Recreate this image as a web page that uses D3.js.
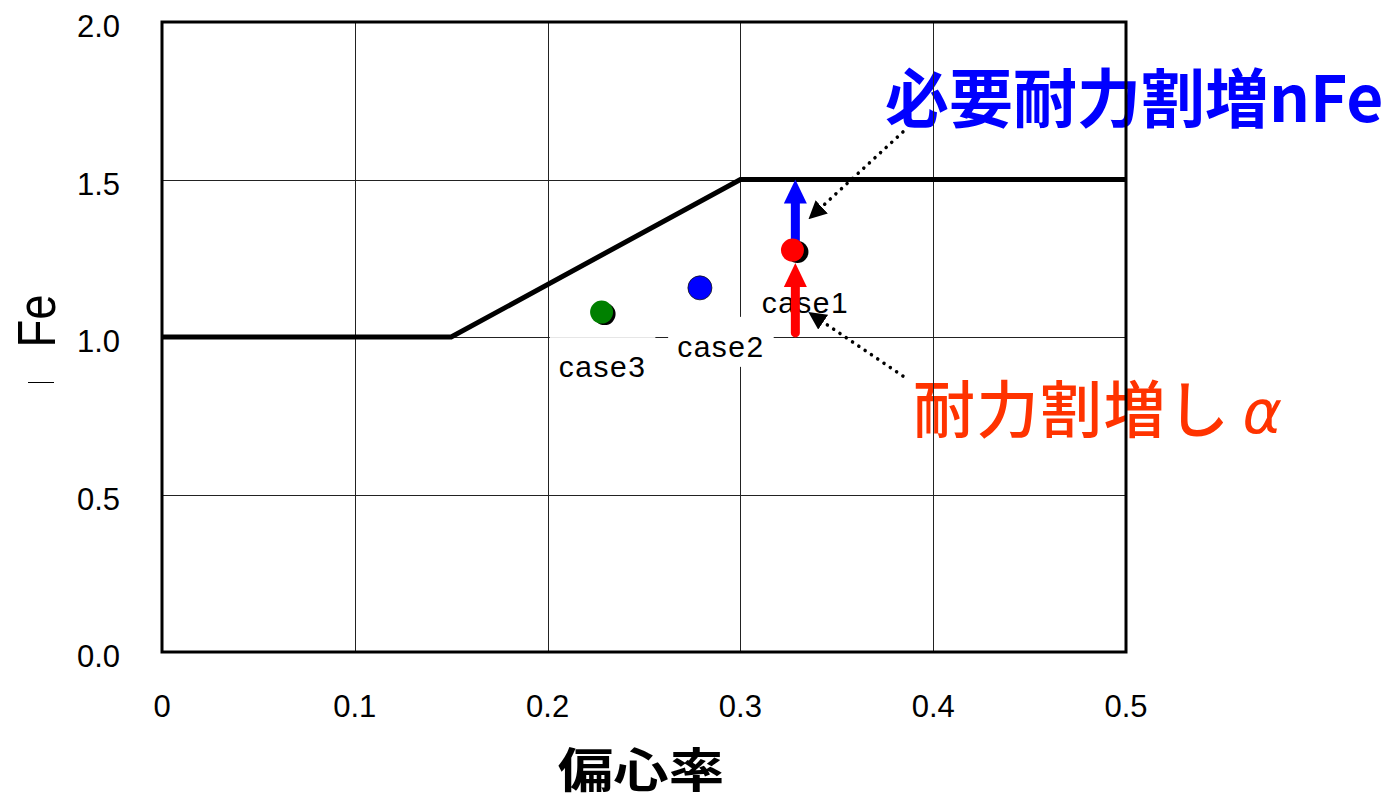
<!DOCTYPE html>
<html>
<head>
<meta charset="utf-8">
<script src="https://cdn.jsdelivr.net/npm/d3@7"></script>
<style>
  html, body { margin: 0; padding: 0; background: #fff; }
  svg { display: block; }
</style>
</head>
<body>
<svg id="chart" width="1389" height="802"></svg>
<script>
// Axis ticks
const xTicks = [0, 0.1, 0.2, 0.3, 0.4, 0.5];
const xTickLabels = ["0", "0.1", "0.2", "0.3", "0.4", "0.5"];
const yTicks = [0, 0.5, 1.0, 1.5, 2.0];
const yTickLabels = ["0.0", "0.5", "1.0", "1.5", "2.0"];

// Required strength factor vs eccentricity
const limitX = [0, 0.15, 0.3, 0.5];
const limitY = [1.0, 1.0, 1.5, 1.5];

// Cases
const caseNames = ["case1", "case2", "case3"];
const caseX = [0.327, 0.279, 0.228];
const caseY = [1.276, 1.156, 1.079];

// Arrows at case1: α (achieved increase) and nFe (required increase)
const alphaArrow = { x: 0.3285, y0: 1.013, y1: 1.235 };
const nfeArrow = { x: 0.3285, y0: 1.276, y1: 1.5 };

// Callout leaders [x0, y0, x1, y1]
const leaderNfe = [0.3843, 1.651, 0.336, 1.378];
const leaderAlpha = [0.3843, 0.876, 0.336, 1.076];

// Callout texts
const nfeText = { x: 0.375, y: 1.683, label: "必要耐力割増", suffix: "nFe" };
const alphaText = { x: 0.3895, y: 0.695, label: "耐力割増し", suffix: "α" };

const xLabel = "偏心率";
const yLabel = "Fe";

// ---- drawing ----
const svg = d3.select("#chart");
const M = { left: 162, right: 1126, top: 22, bottom: 652 };
const x = d3.scaleLinear().domain([0, 0.5]).range([M.left, M.right]);
const y = d3.scaleLinear().domain([0, 2]).range([M.bottom, M.top]);

const caseStyle = [
  { fill: "#ff0000", shadow: true, sdx: 5, sdy: 2, ldx: 13, ldy: 63 },
  { fill: "#0000ff", shadow: false, sdx: 0, sdy: 0, ldx: 21, ldy: 69 },
  { fill: "#008000", shadow: true, sdx: 3, sdy: 2, ldx: 1, ldy: 65 }
];

// callout texts (underneath the grid)
const tn = svg.append("text")
  .attr("x", x(nfeText.x)).attr("y", y(nfeText.y))
  .attr("font-family", "'Noto Sans CJK JP'")
  .attr("font-weight", "bold").attr("font-size", 64)
  .attr("fill", "#0000ff");
tn.append("tspan").text(nfeText.label);
tn.append("tspan").text(nfeText.suffix);

const ta = svg.append("text")
  .attr("x", x(alphaText.x)).attr("y", y(alphaText.y))
  .attr("font-family", "'Noto Sans CJK JP'")
  .attr("font-weight", 500).attr("font-size", 62)
  .attr("fill", "#ff3300");
ta.append("tspan").attr("letter-spacing", 1.5).text(alphaText.label);
ta.append("tspan").attr("dx", 12).attr("font-family", "'DejaVu Sans'")
  .attr("font-style", "italic").attr("font-size", 60).text(alphaText.suffix);

// grid
const grid = svg.append("g").attr("stroke", "#222").attr("stroke-width", 1);
grid.selectAll("line.v").data(xTicks.filter(d => d > 0 && d < 0.5)).join("line")
  .attr("x1", d => Math.round(x(d)) + 0.5).attr("x2", d => Math.round(x(d)) + 0.5)
  .attr("y1", y(2)).attr("y2", y(0));
grid.selectAll("line.h").data(yTicks.filter(d => d > 0 && d < 2)).join("line")
  .attr("y1", d => Math.round(y(d)) + 0.5).attr("y2", d => Math.round(y(d)) + 0.5)
  .attr("x1", x(0)).attr("x2", x(0.5));

// frame
svg.append("rect")
  .attr("x", x(0)).attr("y", y(2))
  .attr("width", x(0.5) - x(0)).attr("height", y(0) - y(2))
  .attr("fill", "none").attr("stroke", "#000").attr("stroke-width", 3);

// tick labels
const tickFont = "'Liberation Sans', Arial, sans-serif";
svg.append("g").selectAll("text").data(xTicks).join("text")
  .attr("x", d => x(d)).attr("y", 717)
  .attr("text-anchor", "middle")
  .attr("font-family", tickFont).attr("font-size", 31)
  .text((d, i) => xTickLabels[i]);
svg.append("g").selectAll("text").data(yTicks).join("text")
  .attr("x", 120).attr("y", d => y(d) + 15)
  .attr("text-anchor", "end")
  .attr("font-family", tickFont).attr("font-size", 31)
  .text((d, i) => yTickLabels[i]);

// axis titles
svg.append("text")
  .attr("transform", "translate(641,787) scale(1.18,1)")
  .attr("text-anchor", "middle")
  .attr("font-family", "'Noto Sans CJK JP'").attr("font-weight", "bold")
  .attr("font-size", 47)
  .text(xLabel);
svg.append("text")
  .attr("transform", "translate(55,321) rotate(-90) scale(0.86,1)")
  .attr("text-anchor", "middle")
  .attr("font-family", tickFont).attr("font-size", 53)
  .text(yLabel);
svg.append("line")
  .attr("x1", 28).attr("x2", 54).attr("y1", 382.5).attr("y2", 382.5)
  .attr("stroke", "#000").attr("stroke-width", 1);

// limit line
svg.append("path")
  .datum(limitX.map((d, i) => [d, limitY[i]]))
  .attr("d", d3.line().x(d => x(d[0])).y(d => y(d[1])))
  .attr("fill", "none").attr("stroke", "#000").attr("stroke-width", 5)
  .attr("stroke-linejoin", "miter");

// case labels with white boxes
const labels = svg.append("g");
caseNames.forEach((name, i) => {
  const cx = x(caseX[i]) + caseStyle[i].ldx;
  const by = y(caseY[i]) + caseStyle[i].ldy;
  const t = labels.append("text")
    .attr("x", cx).attr("y", by)
    .attr("text-anchor", "middle")
    .attr("font-family", tickFont).attr("font-size", 30)
    .attr("letter-spacing", 1.5)
    .text(name);
  const bb = t.node().getBBox();
  labels.insert("rect", "text")
    .attr("x", bb.x - 9).attr("y", by - 40)
    .attr("width", bb.width + 18).attr("height", 50)
    .attr("fill", "#fff");
});

// dotted leaders with arrowheads
const defs = svg.append("defs");
defs.append("marker").attr("id", "tri")
  .attr("viewBox", "0 0 10 10").attr("refX", 9).attr("refY", 5)
  .attr("markerWidth", 18).attr("markerHeight", 18)
  .attr("markerUnits", "userSpaceOnUse").attr("orient", "auto")
  .append("path").attr("d", "M0,0 L10,5 L0,10 Z").attr("fill", "#000");

[leaderNfe, leaderAlpha].forEach(l => {
  svg.append("line")
    .attr("x1", x(l[0])).attr("y1", y(l[1]))
    .attr("x2", x(l[2])).attr("y2", y(l[3]))
    .attr("stroke", "#000").attr("stroke-width", 3.5)
    .attr("stroke-linecap", "round").attr("stroke-dasharray", "0.1 7.5")
    .attr("marker-end", "url(#tri)");
});

// points
const pts = svg.append("g");
caseNames.forEach((name, i) => {
  const px = x(caseX[i]), py = y(caseY[i]);
  const s = caseStyle[i];
  if (s.shadow) {
    pts.append("circle").attr("cx", px + s.sdx).attr("cy", py + s.sdy)
      .attr("r", 11).attr("fill", "#000");
  }
  pts.append("circle").attr("cx", px).attr("cy", py)
    .attr("r", s.shadow ? 11.5 : 12).attr("fill", s.fill)
    .attr("stroke", s.shadow ? "none" : "#111").attr("stroke-width", 0.8);
});

// vertical arrows
function vArrow(a, color) {
  const g = svg.append("g");
  const ax = x(a.x), yb = y(a.y0), yt = y(a.y1);
  const head = 24, hw = 11.5;
  g.append("line").attr("x1", ax).attr("x2", ax)
    .attr("y1", yb).attr("y2", yt + head - 2)
    .attr("stroke", color).attr("stroke-width", 9).attr("stroke-linecap", "round");
  g.append("path")
    .attr("d", `M${ax},${yt} L${ax + hw},${yt + head} L${ax - hw},${yt + head} Z`)
    .attr("fill", color);
}
vArrow(alphaArrow, "#ff0000");
vArrow(nfeArrow, "#0000ff");
// the blue arrow emerges from behind the case1 marker
pts.raise();
</script>
</body>
</html>
